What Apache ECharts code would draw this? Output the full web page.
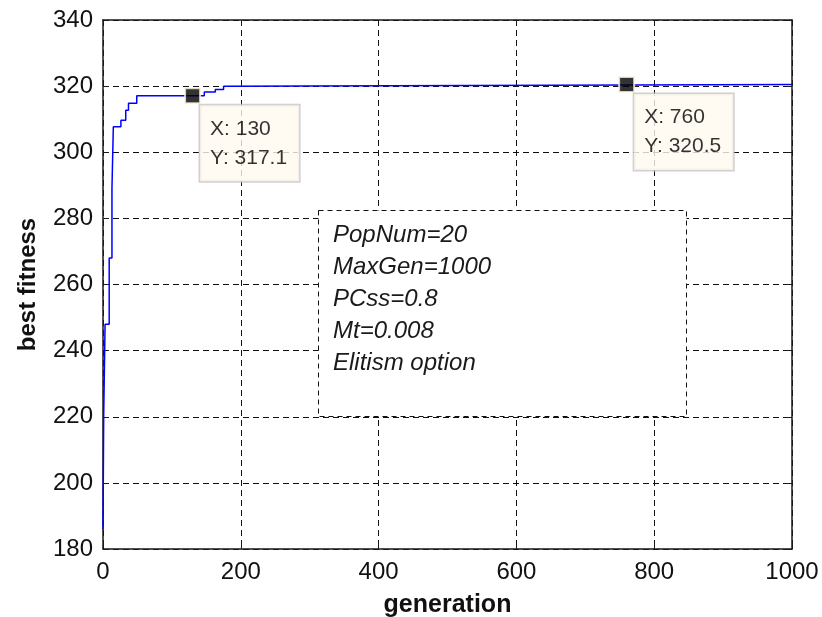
<!DOCTYPE html>
<html>
<head>
<meta charset="utf-8">
<script src="https://cdn.jsdelivr.net/npm/echarts@6/dist/echarts.min.js"></script>
<style>
  html, body { margin: 0; padding: 0; background: #fff; }
  #chart { width: 822px; height: 617px; }
</style>
</head>
<body>
<div id="chart"></div>
<script>
// Best-fitness history: each point starts a plateau that holds until the next generation listed
const generations = [0, 1, 3, 9, 13, 15, 26, 33, 37, 49, 147, 163, 175, 181, 1000];
const bestFitness = [186, 220, 248, 268, 289, 307.7, 309.7, 312.7, 314.8, 317.1, 318.2, 319.0, 320.0, 320.5, 320.5];

// Data tips
const tipGenerations = [130, 760];
const tipValues = [317.1, 320.5];

// Axis ranges and ticks
const xTicks = [0, 200, 400, 600, 800, 1000];
const yTicks = [180, 200, 220, 240, 260, 280, 300, 320, 340];

// Run parameters shown in the annotation box
const paramLines = ['PopNum=20', 'MaxGen=1000', 'PCss=0.8', 'Mt=0.008', 'Elitism option'];

const mainFont = '"Liberation Sans", Arial, sans-serif';

const frame = { show: true, onZero: false, lineStyle: { color: '#1a1a1a', width: 1.5 } };
const grid = { show: true, lineStyle: { color: '#111', width: 1, type: [6, 4] } };
const ticksIn = { show: true, inside: true, length: 6, lineStyle: { color: '#1a1a1a', width: 1 } };
const plainNumber = v => String(v);

const chart = echarts.init(document.getElementById('chart'), null, { renderer: 'canvas' });

chart.setOption({
  animation: false,
  backgroundColor: '#fff',
  grid: { left: 103, top: 20, right: 30, bottom: 68, containLabel: false, outerBoundsMode: 'none' },
  xAxis: [
    {
      type: 'value', position: 'bottom',
      min: xTicks[0], max: xTicks[xTicks.length - 1], interval: xTicks[1] - xTicks[0],
      axisLine: frame, axisTick: ticksIn, splitLine: grid,
      axisLabel: { color: '#111', fontFamily: mainFont, fontSize: 24, margin: 11, formatter: plainNumber },
      name: 'generation', nameLocation: 'middle', nameGap: 44,
      nameTextStyle: { color: '#111', fontFamily: mainFont, fontWeight: 'bold', fontSize: 25 }
    },
    {
      type: 'value', position: 'top',
      min: xTicks[0], max: xTicks[xTicks.length - 1], interval: xTicks[1] - xTicks[0],
      axisLine: frame, axisTick: ticksIn, splitLine: { show: false }, axisLabel: { show: false }
    }
  ],
  yAxis: [
    {
      type: 'value', position: 'left',
      min: yTicks[0], max: yTicks[yTicks.length - 1], interval: yTicks[1] - yTicks[0],
      axisLine: frame, axisTick: ticksIn, splitLine: grid,
      axisLabel: { color: '#111', fontFamily: mainFont, fontSize: 24, margin: 10, formatter: plainNumber },
      name: 'best fitness', nameLocation: 'middle', nameGap: 63,
      nameTextStyle: { color: '#111', fontFamily: mainFont, fontWeight: 'bold', fontSize: 24 }
    },
    {
      type: 'value', position: 'right',
      min: yTicks[0], max: yTicks[yTicks.length - 1], interval: yTicks[1] - yTicks[0],
      axisLine: frame, axisTick: ticksIn, splitLine: { show: false }, axisLabel: { show: false }
    }
  ],
  series: [
    {
      type: 'line',
      step: 'end',
      data: generations.map((g, i) => [g, bestFitness[i]]),
      showSymbol: false,
      symbol: 'none',
      lineStyle: { color: '#0000ff', width: 1.5 },
      z: 3
    },
    {
      type: 'scatter',
      data: tipGenerations.map((g, i) => [g, tipValues[i]]),
      symbol: 'rect',
      symbolSize: 15,
      itemStyle: { color: '#000', borderColor: '#fdf6e6', borderWidth: 2 },
      label: {
        show: true,
        position: [16, 18],
        formatter: p => 'X: ' + p.value[0] + '\nY: ' + p.value[1],
        fontFamily: mainFont,
        fontSize: 21,
        lineHeight: 29,
        color: '#000',
        backgroundColor: '#fffaf0',
        borderColor: '#c4c4c4',
        borderWidth: 1.5,
        padding: [9, 12, 9, 10]
      },
      z: 5
    }
  ],
  graphic: [
    {
      type: 'rect',
      z: 100,
      shape: { x: 318.5, y: 210.5, width: 368, height: 206 },
      style: { fill: '#ffffff', stroke: '#111', lineWidth: 1, lineDash: [5, 4] }
    },
    {
      type: 'text',
      z: 101,
      x: 333, y: 219,
      style: {
        text: paramLines.join('\n'),
        font: 'italic 24px ' + mainFont,
        lineHeight: 32,
        fill: '#1a1a1a',
        verticalAlign: 'top'
      }
    }
  ]
});
</script>
</body>
</html>
